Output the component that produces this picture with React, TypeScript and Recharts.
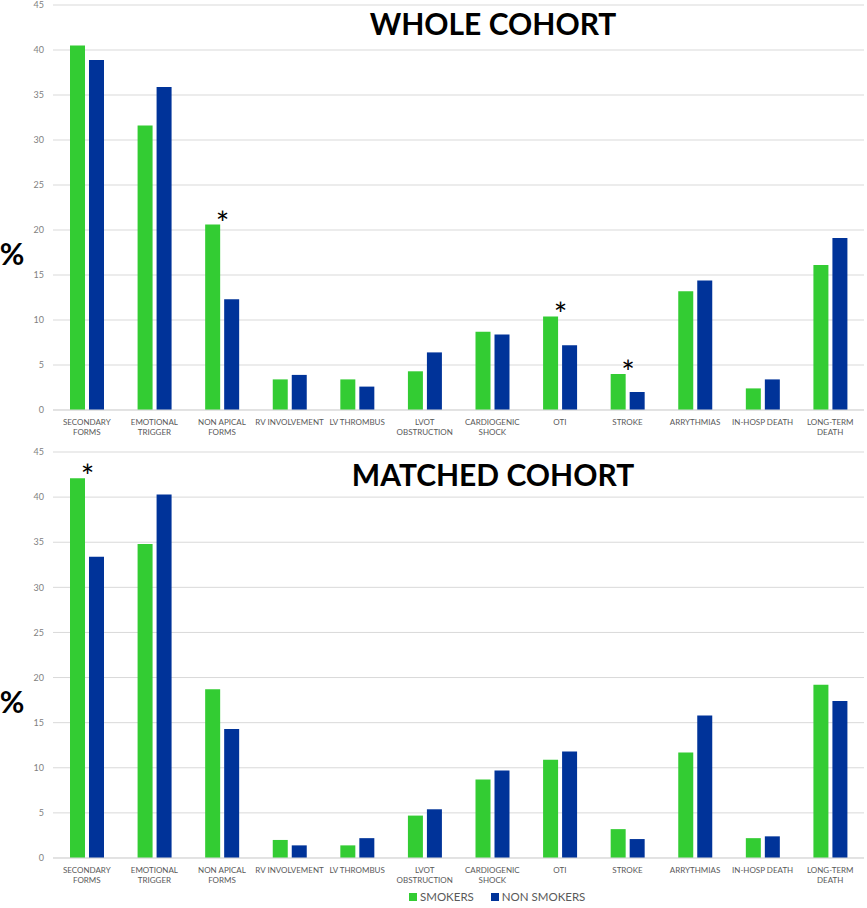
import React from 'react';
import { BarChart, Bar, XAxis, YAxis, CartesianGrid, Legend, LabelList } from 'recharts';

const categories = [
  'SECONDARY\nFORMS',
  'EMOTIONAL\nTRIGGER',
  'NON APICAL\nFORMS',
  'RV INVOLVEMENT',
  'LV THROMBUS',
  'LVOT\nOBSTRUCTION',
  'CARDIOGENIC\nSHOCK',
  'OTI',
  'STROKE',
  'ARRYTHMIAS',
  'IN-HOSP DEATH',
  'LONG-TERM\nDEATH',
];

const wholeSmokers = [40.5, 31.6, 20.6, 3.4, 3.4, 4.3, 8.7, 10.4, 4.0, 13.2, 2.4, 16.1];
const wholeNonSmokers = [38.9, 35.9, 12.3, 3.9, 2.6, 6.4, 8.4, 7.2, 2.0, 14.4, 3.4, 19.1];
const wholeSig = [false, false, true, false, false, false, false, true, true, false, false, false];

const matchedSmokers = [42.1, 34.8, 18.7, 2.0, 1.4, 4.7, 8.7, 10.9, 3.2, 11.7, 2.2, 19.2];
const matchedNonSmokers = [33.4, 40.3, 14.3, 1.4, 2.2, 5.4, 9.7, 11.8, 2.1, 15.8, 2.4, 17.4];
const matchedSig = [true, false, false, false, false, false, false, false, false, false, false, false];

const yTicks = [0, 5, 10, 15, 20, 25, 30, 35, 40, 45];

const GREEN = '#33cc33';
const BLUE = '#003399';
const FONT = 'Lato, "Open Sans", sans-serif';

const build = (a: number[], b: number[], sig: boolean[]) =>
  categories.map((c, i) => ({ name: c, smokers: a[i], nonSmokers: b[i], sig: sig[i] }));

const wholeData = build(wholeSmokers, wholeNonSmokers, wholeSig);
const matchedData = build(matchedSmokers, matchedNonSmokers, matchedSig);

const XTick = (props: any) => {
  const { x, y, payload } = props;
  const lines = String(payload.value).split('\n');
  return (
    <g transform={`translate(${x},${y})`}>
      {lines.map((l, i) => (
        <text key={i} x={0} y={15 + i * 10} textAnchor="middle" fontSize={8} fill="#595959" fontFamily={FONT}>
          {l}
        </text>
      ))}
    </g>
  );
};

const makeStar = (data: any[]) => (props: any) => {
  const { x, y, width, index } = props;
  if (!data[index] || !data[index].sig) return null;
  return (
    <text x={Number(x) + Number(width) + 2.5} y={Number(y) + 10} textAnchor="middle" fontSize={32} fill="#000" fontFamily={FONT}>
      *
    </text>
  );
};

const LegendContent = () => (
  <div style={{ display: 'flex', justifyContent: 'flex-start', alignItems: 'center', fontFamily: FONT, fontSize: 11.5, color: '#595959', height: 15, paddingLeft: 409, marginTop: -4 }}>
    <span style={{ display: 'inline-block', width: 8, height: 8, background: GREEN, marginRight: 3 }} />
    <span style={{ marginRight: 17 }}>SMOKERS</span>
    <span style={{ display: 'inline-block', width: 8, height: 8, background: BLUE, marginRight: 3 }} />
    <span>NON SMOKERS</span>
  </div>
);

const Panel = ({ data, height, legend }: { data: any[]; height: number; legend: boolean }) => (
  <BarChart
    width={867}
    height={height}
    data={data}
    margin={{ top: 5, right: 3, left: 0, bottom: 0 }}
    barSize={15}
    barGap={4}
  >
    <CartesianGrid vertical={false} stroke="#d9d9d9" />
    <XAxis
      dataKey="name"
      interval={0}
      tick={<XTick />}
      tickLine={false}
      axisLine={{ stroke: '#d9d9d9' }}
      height={35}
      tickSize={0}
      tickMargin={0}
    />
    <YAxis
      domain={[0, 45]}
      ticks={yTicks}
      width={53}
      tickLine={false}
      axisLine={false}
      tickSize={0}
      tickMargin={9}
      tick={{ fontSize: 9, fill: '#7f7f7f', fontFamily: FONT }}
      interval={0}
    />
    {legend && <Legend verticalAlign="bottom" height={15} content={<LegendContent />} />}
    <Bar dataKey="smokers" name="SMOKERS" fill={GREEN} isAnimationActive={false}>
      <LabelList dataKey="smokers" content={makeStar(data)} />
    </Bar>
    <Bar dataKey="nonSmokers" name="NON SMOKERS" fill={BLUE} isAnimationActive={false} />
  </BarChart>
);

export default function App() {
  return (
    <div style={{ position: 'absolute', left: 0, top: 0, width: 867, height: 908, background: '#fff', overflow: 'hidden' }}>
      <div style={{ position: 'absolute', left: 0, top: 0 }}>
        <Panel data={wholeData} height={445} legend={false} />
      </div>
      <div style={{ position: 'absolute', left: 0, top: 447 }}>
        <Panel data={matchedData} height={461} legend={true} />
      </div>
      <svg width={867} height={908} style={{ position: 'absolute', left: 0, top: 0, pointerEvents: 'none' }}>
        <text x={493} y={35} textAnchor="middle" fontSize={30} fontWeight={700} fontFamily={FONT} fill="#000">
          WHOLE COHORT
        </text>
        <text x={493} y={486} textAnchor="middle" fontSize={30} fontWeight={700} fontFamily={FONT} fill="#000">
          MATCHED COHORT
        </text>
        <text x={12} y={265} textAnchor="middle" fontSize={30} fontWeight={700} fontFamily={FONT} fill="#000">
          %
        </text>
        <text x={12} y={713} textAnchor="middle" fontSize={30} fontWeight={700} fontFamily={FONT} fill="#000">
          %
        </text>
      </svg>
    </div>
  );
}
